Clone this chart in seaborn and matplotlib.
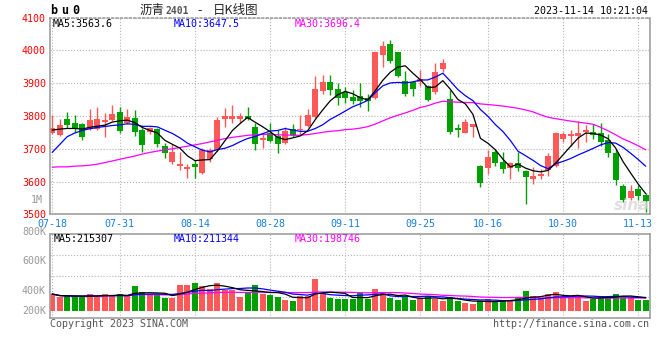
import numpy as np
import pandas as pd
import seaborn as sns
import matplotlib.pyplot as plt

# daily candles bu2401, 2023-07-18 .. 2023-11-14 (80 trading days)
opens = [3747, 3742, 3791, 3778, 3775, 3760, 3760, 3782, 3788, 3813,
         3778, 3793, 3757, 3750, 3760, 3708, 3659, 3649, 3637, 3653,
         3626, 3668, 3697, 3790, 3790, 3790, 3800, 3767, 3727, 3748,
         3739, 3718, 3759, 3756, 3769, 3797, 3877, 3905, 3882, 3874,
         3859, 3861, 3854, 3855, 3987, 4020, 3994, 3908, 3903, 3905,
         3892, 3874, 3943, 3852, 3760, 3749, 3765, 3647, 3640, 3691,
         3660, 3640, 3657, 3632, 3608, 3616, 3634, 3648, 3729, 3739,
         3739, 3752, 3752, 3749, 3727, 3687, 3586, 3551, 3578, 3558]
closes = [3762, 3772, 3773, 3759, 3735, 3788, 3790, 3788, 3806, 3755,
          3798, 3752, 3713, 3762, 3716, 3686, 3691, 3655, 3645, 3643,
          3696, 3696, 3788, 3800, 3800, 3800, 3790, 3716, 3731, 3724,
          3714, 3755, 3742, 3760, 3803, 3882, 3905, 3880, 3854, 3855,
          3845, 3845, 3847, 3994, 4012, 3969, 3923, 3867, 3882, 3912,
          3849, 3933, 3963, 3750, 3757, 3781, 3775, 3596, 3675, 3657,
          3638, 3657, 3640, 3614, 3616, 3622, 3678, 3749, 3744, 3745,
          3747, 3755, 3742, 3721, 3688, 3605, 3545, 3570, 3555, 3541]
highs = [3802, 3790, 3813, 3803, 3778, 3822, 3828, 3810, 3834, 3827,
         3820, 3818, 3762, 3765, 3764, 3718, 3716, 3690, 3653, 3665,
         3703, 3703, 3798, 3825, 3834, 3808, 3826, 3780, 3747, 3778,
         3757, 3765, 3777, 3802, 3821, 3923, 3926, 3926, 3900, 3888,
         3880, 3900, 3866, 3996, 4028, 4031, 3996, 3936, 3905, 3941,
         3894, 3961, 3974, 3880, 3775, 3790, 3777, 3650, 3696, 3698,
         3691, 3660, 3691, 3635, 3643, 3637, 3688, 3752, 3752, 3757,
         3786, 3773, 3775, 3780, 3745, 3698, 3592, 3590, 3590, 3565]
lows = [3745, 3738, 3764, 3750, 3727, 3757, 3756, 3736, 3785, 3747,
        3775, 3740, 3690, 3745, 3705, 3672, 3654, 3635, 3612, 3611,
        3624, 3660, 3694, 3766, 3780, 3780, 3788, 3696, 3703, 3720,
        3688, 3716, 3735, 3743, 3767, 3795, 3866, 3864, 3833, 3840,
        3837, 3827, 3816, 3852, 3950, 3961, 3918, 3861, 3860, 3890,
        3845, 3866, 3934, 3746, 3735, 3747, 3737, 3584, 3622, 3647,
        3626, 3609, 3632, 3533, 3594, 3609, 3617, 3645, 3721, 3708,
        3701, 3722, 3730, 3708, 3675, 3589, 3538, 3545, 3543, 3507]
volumes_k = [275, 225, 235, 235, 232, 275, 232, 275, 240, 275,
             240, 405, 305, 255, 255, 218, 218, 421, 421, 459,
             400, 352, 459, 340, 340, 232, 300, 421, 280, 260,
             232, 178, 165, 250, 250, 525, 286, 216, 200, 200,
             192, 286, 200, 356, 302, 216, 178, 240, 178, 210,
             240, 190, 170, 222, 167, 130, 113, 165, 190, 165,
             165, 165, 225, 324, 243, 205, 280, 305, 232, 205,
             245, 162, 200, 245, 245, 270, 245, 210, 180, 176]

# moving-average values before enough bars exist
ma5_head = [3757, 3760, 3762, 3762]
ma10_head = [3689, 3713, 3737, 3748, 3756, 3761, 3765, 3768, 3771]
ma30_head = [3644, 3645, 3645, 3647, 3648, 3650, 3653, 3658, 3663, 3668,
             3673, 3678, 3684, 3689, 3693, 3697, 3700, 3704, 3708, 3712,
             3716, 3721, 3726, 3731, 3735, 3738, 3741, 3743, 3744]

date_pos = [0, 9, 19, 29, 39, 49, 58, 68, 78]
date_labels = ['07-18', '07-31', '08-14', '08-28', '09-11', '09-25', '10-16', '10-30', '11-13']
price_ticks = [3500, 3600, 3700, 3800, 3900, 4000, 4100]

ma_price_text = ['MA5:3563.6', 'MA10:3647.5', 'MA30:3696.4']
ma_vol_text = ['MA5:215307', 'MA10:211344', 'MA30:198746']
vol_labels = ['800K', '600K', '400K', '200K']

df = pd.DataFrame({'open': opens, 'close': closes, 'high': highs, 'low': lows,
                   'vol': np.array(volumes_k) * 1000})
df['x'] = np.arange(len(df))
df['dir'] = np.where(df['close'] >= df['open'], 'up', 'down')

c = df['close']
ma5 = c.rolling(5).mean().to_numpy()
ma5[:len(ma5_head)] = ma5_head
ma10 = c.rolling(10).mean().to_numpy()
ma10[:len(ma10_head)] = ma10_head
ma30 = c.rolling(30).mean().to_numpy()
ma30[:len(ma30_head)] = ma30_head
vma5 = df['vol'].rolling(5, min_periods=1).mean()
vma10 = df['vol'].rolling(10, min_periods=1).mean()
vma30 = df['vol'].rolling(30, min_periods=1).mean()

RED = '#ff5858'
GREEN = '#00a000'
GRID = '#b4b4b4'
FRAME = '#a0a0a0'
pal = {'up': RED, 'down': GREEN}

sns.set_style('white')
plt.rcParams['font.family'] = ['DejaVu Sans Mono', 'Noto Sans CJK SC']

W, H = 660, 360
fig = plt.figure(figsize=(6.6, 3.6), dpi=100)


def fx(px):
    return px / W


def fy(py):
    return 1 - py / H


ax = fig.add_axes([fx(50), fy(214.4), 600 / W, (214.4 - 17.6) / H])
axv = fig.add_axes([fx(50), fy(317.7), 600 / W, (317.7 - 234) / H])

# ---- price panel
cols = df['dir'].map(pal)
ax.vlines(df['x'], df['low'], df['high'], colors=cols, lw=1, zorder=2)
body_lo = df[['open', 'close']].min(axis=1)
body_h = (df['open'] - df['close']).abs().clip(lower=5)
ax.bar(df['x'], body_h, bottom=body_lo, width=0.8, color=cols, lw=0, zorder=2)

sns.lineplot(x=df['x'], y=ma30, ax=ax, color='#ff00ff', lw=0.9, zorder=3)
sns.lineplot(x=df['x'], y=ma10, ax=ax, color='#0000ff', lw=0.9, zorder=3)
sns.lineplot(x=df['x'], y=ma5, ax=ax, color='black', lw=0.9, zorder=3)

xlim = (-0.29, 79.57)
ax.set_xlim(*xlim)
ax.set_ylim(3500, 4100)
ax.set_yticks(price_ticks)
ax.set_yticklabels([str(t) for t in price_ticks])
ax.set_xticks(date_pos)
ax.set_xticklabels(date_labels)
ax.tick_params(axis='y', length=0, pad=3, labelcolor='red', labelsize=7.2)
ax.tick_params(axis='x', length=0, pad=3, labelcolor='#1a7fd9', labelsize=7.2)
ax.grid(True, ls=':', color=GRID, lw=0.8)
ax.set_xlabel('')
ax.set_ylabel('')
for s in ax.spines.values():
    s.set_color(FRAME)
    s.set_linewidth(1.2)
ax.spines['top'].set_linestyle(':')

# ---- volume panel
sns.barplot(x=df['x'], y=df['vol'], hue=df['dir'], palette=pal, native_scale=True,
            dodge=False, width=0.8, saturation=1, linewidth=0, legend=False, ax=axv)
sns.lineplot(x=df['x'], y=vma30, ax=axv, color='#ff00ff', lw=0.9)
sns.lineplot(x=df['x'], y=vma10, ax=axv, color='#0000ff', lw=0.9)
sns.lineplot(x=df['x'], y=vma5, ax=axv, color='black', lw=0.9)
axv.set_xlim(*xlim)
axv.set_ylim(-108.5e3, 1247e3)
axv.set_yticks([227e3, 567e3, 907e3])
axv.set_yticklabels([])
axv.set_xticks(date_pos)
axv.set_xticklabels([])
axv.tick_params(length=0)
axv.grid(True, ls=':', color=GRID, lw=0.8)
axv.set_xlabel('')
axv.set_ylabel('')
for s in axv.spines.values():
    s.set_color(FRAME)
    s.set_linewidth(1.2)

for lab, py in zip(vol_labels, [232, 260.5, 290.5, 311]):
    fig.text(fx(46), fy(py), lab, ha='right', va='center', color='#999999', fontsize=7.2)
fig.text(fx(43), fy(200), '1M', ha='right', va='center', color='#999999', fontsize=7.2)

# ---- texts
for i, ch in enumerate('bu0'):
    fig.text(fx(50 + i * 11), fy(11), ch, ha='left', va='center',
             fontsize=8.5, fontweight='bold', color='black')
cjk = ['Noto Sans CJK SC', 'DejaVu Sans']
fig.text(fx(140), fy(10.5), '沥青', ha='left', va='center', fontsize=9, family=cjk)
fig.text(fx(165), fy(10.5), '2401', ha='left', va='center', fontsize=7,
         fontweight='bold', color='#555555', family=['DejaVu Sans Mono'])
fig.text(fx(197), fy(10.5), '-', ha='left', va='center', fontsize=9, family=cjk)
fig.text(fx(213), fy(10.5), '日K线图', ha='left', va='center', fontsize=9, family=cjk)
fig.text(fx(648), fy(11), '2023-11-14 10:21:04', ha='right', va='center',
         fontsize=7.2, color='black')

for txt, px, col in zip(ma_price_text, [53, 174, 295], ['black', '#0000ff', '#ff00ff']):
    fig.text(fx(px), fy(23.7), txt, ha='left', va='center', fontsize=7.2, color=col)
for txt, px, col in zip(ma_vol_text, [54, 174, 295], ['black', '#0000ff', '#ff00ff']):
    fig.text(fx(px), fy(238.7), txt, ha='left', va='center', fontsize=7.2, color=col)

fig.text(fx(50), fy(324), 'Copyright 2023 SINA.COM', ha='left', va='center',
         fontsize=7.2, color='#555555')
fig.text(fx(649), fy(324), 'http://finance.sina.com.cn', ha='right', va='center',
         fontsize=7.2, color='#555555')
fig.text(fx(632), fy(205), 'sina', ha='center', va='center', fontsize=11,
         style='italic', fontweight='bold', color='#d8d8d8', alpha=0.8,
         family=['DejaVu Sans'])

fig.savefig('out.png', dpi=100)
